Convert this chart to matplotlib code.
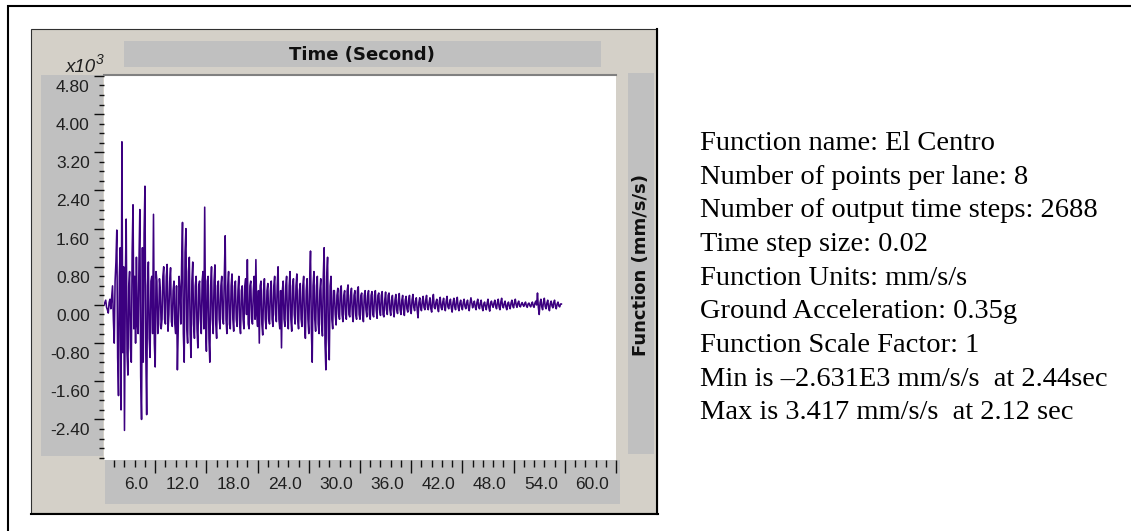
import numpy as np
import matplotlib.pyplot as plt
from matplotlib.patches import Rectangle
from matplotlib.transforms import ScaledTranslation

# El Centro ground acceleration (x10^3 mm/s/s), one value every 0.1 s
dt = 0.1
accel = [
    0.00, 0.05, 0.10, -0.05, -0.10, -0.17, 0.05, 0.12, -0.08, 0.15,
    0.40, -0.30, -0.80, 0.50, 0.90, 1.57, -1.10, -1.90, 0.60, 1.20,
    -2.20, 3.42, -1.00, 0.80, -2.63, 0.50, 1.80, -1.00, -1.47, 0.40,
    0.70, -0.90, -1.20, 1.10, 2.10, -0.50, 0.60, -0.80, 1.00, -0.40,
    -0.60, 0.90, 2.00, -1.50, -2.40, 1.20, -1.20, 1.50, 2.49, -1.00,
    -2.30, 0.40, 0.90, -0.70, -1.10, 0.50, 0.60, -0.60, 1.90, -0.80,
    -1.30, 0.70, 0.50, -0.60, -0.40, 0.55, 0.30, -0.50, -0.30, 0.60,
    0.80, -0.30, -0.40, 0.60, 0.85, -0.55, -0.20, 0.50, 0.78, -0.35,
    -0.45, 0.30, 0.50, -0.40, -0.60, 0.40, -1.36, -0.50, 0.60, 0.30,
    -0.40, 0.90, 1.73, -0.60, -1.20, 1.10, 1.60, -0.50, -0.80, 0.70,
    1.00, -0.60, -1.10, 0.50, 0.90, -0.40, -0.70, 0.40, 0.60, -0.50,
    -0.90, 0.40, 0.50, -0.30, -0.60, 0.50, 0.70, -0.50, 2.05, -0.40,
    -0.97, 0.50, 0.60, -0.70, -1.20, 0.40, 0.80, -0.30, -0.60, 0.50,
    0.84, -0.40, -0.70, 0.40, 0.50, -0.30, -0.50, 0.40, 0.60, -0.30,
    -0.40, 0.60, 1.45, -0.30, -0.60, 0.40, 0.70, -0.40, -0.50, 0.40,
    0.65, -0.30, -0.55, 0.40, 0.50, -0.30, -0.45, 0.30, 0.60, -0.40,
    -0.60, 0.30, 0.40, -0.30, -0.50, 0.40, 0.55, -0.20, 0.95, -0.40,
    -0.50, 0.40, 0.50, -0.30, -0.40, 0.30, 0.60, -0.30, 0.95, -0.20,
    -0.45, 0.30, -0.80, 0.40, 0.50, -0.40, -0.63, 0.30, 0.55, -0.30,
    -0.50, 0.30, 0.45, -0.30, -0.40, 0.30, 0.50, -0.30, -0.45, 0.40,
    0.60, -0.20, -0.35, 0.40, 0.80, -0.30, -0.50, 0.30, -0.90, 0.30,
    0.50, -0.30, -0.45, 0.40, 0.60, -0.30, -0.50, 0.40, 0.70, -0.30,
    -0.55, 0.40, 0.55, -0.20, -0.40, 0.40, 0.65, -0.30, -0.50, 0.30,
    0.45, -0.30, -0.45, 0.40, 0.60, -0.40, -0.70, 0.30, 0.55, -0.30,
    -0.60, 0.50, 1.13, -0.50, -1.20, 0.40, 0.70, -0.30, -0.55, 0.40,
    0.60, -0.40, -0.60, 0.30, 0.55, -0.40, -0.65, 0.60, 1.20, -0.80,
    -1.36, 0.60, 1.00, -0.70, -1.15, 0.40, 0.60, -0.30, -0.50, 0.30,
    0.30, -0.20, -0.42, 0.20, 0.35, -0.20, -0.30, 0.30, 0.40, -0.20,
    -0.35, 0.20, 0.30, -0.20, -0.30, 0.30, 0.42, -0.20, -0.25, 0.20,
    0.35, -0.20, -0.35, 0.20, 0.30, -0.20, -0.30, 0.30, 0.38, -0.20,
    -0.30, 0.20, 0.25, -0.20, -0.35, 0.20, 0.30, -0.10, -0.25, 0.20,
    0.30, -0.20, -0.30, 0.20, 0.28, -0.20, -0.25, 0.20, 0.30, -0.10,
    -0.28, 0.20, 0.25, -0.10, -0.22, 0.20, 0.28, -0.20, -0.25, 0.10,
    0.27, -0.10, -0.20, 0.20, 0.25, -0.10, -0.22, 0.10, 0.20, -0.10,
    -0.25, 0.10, 0.22, -0.10, -0.18, 0.10, 0.24, -0.10, -0.20, 0.10,
    0.20, -0.10, -0.22, 0.10, 0.18, -0.08, -0.15, 0.10, 0.20, -0.10,
    -0.18, 0.10, 0.22, -0.05, -0.12, 0.08, 0.15, -0.10, -0.27, 0.05,
    0.15, -0.05, -0.12, 0.08, 0.18, -0.05, -0.10, 0.10, 0.20, -0.05,
    -0.10, 0.05, 0.15, -0.08, -0.15, 0.10, 0.22, -0.05, -0.08, 0.06,
    0.12, -0.06, -0.14, 0.08, 0.16, -0.05, -0.10, 0.06, 0.14, -0.05,
    -0.12, 0.08, 0.18, -0.04, -0.08, 0.05, 0.12, -0.06, -0.15, 0.05,
    0.14, -0.04, -0.10, 0.08, 0.16, -0.05, -0.12, 0.04, 0.10, -0.04,
    -0.10, 0.05, 0.12, -0.03, -0.08, 0.04, 0.10, -0.05, -0.12, 0.04,
    0.15, 0.05, -0.06, 0.02, 0.08, -0.04, -0.10, 0.05, 0.12, -0.03,
    -0.08, 0.04, 0.10, -0.05, -0.12, 0.02, 0.06, -0.04, -0.10, 0.04,
    0.12, -0.05, -0.13, 0.03, 0.08, 0.00, -0.05, 0.04, 0.10, -0.03,
    -0.08, 0.05, 0.12, -0.04, -0.10, 0.06, 0.14, -0.02, -0.06, 0.03,
    0.08, -0.04, -0.10, 0.02, 0.06, -0.03, -0.08, 0.04, 0.10, -0.02,
    -0.06, 0.05, 0.12, 0.00, -0.05, 0.04, 0.08, -0.02, -0.04, 0.02,
    0.05, 0.00, -0.03, 0.03, 0.06, -0.02, -0.05, 0.02, 0.04, -0.01,
    -0.04, 0.02, 0.06, -0.02, -0.05, 0.04, 0.08, 0.00, 0.25, -0.05,
    -0.20, 0.05, 0.12, -0.04, -0.10, 0.06, 0.14, -0.03, -0.08, 0.04,
    0.10, -0.05, -0.12, 0.03, 0.08, -0.02, -0.06, 0.05, 0.10, -0.03,
    -0.08, 0.02, 0.06, -0.02, -0.04, 0.02, 0.02,
]
t = np.arange(len(accel)) * dt

y_ticks = [-2.4, -1.6, -0.8, 0.0, 0.8, 1.6, 2.4, 3.2, 4.0, 4.8]
y_labels = ['-2.40', '-1.60', '-0.80', '0.00', '0.80', '1.60', '2.40', '3.20', '4.00', '4.80']
x_ticks = [6, 12, 18, 24, 30, 36, 42, 48, 54, 60]
x_labels = ['6.0', '12.0', '18.0', '24.0', '30.0', '36.0', '42.0', '48.0', '54.0', '60.0']

info_lines = [
    'Function name: El Centro',
    'Number of points per lane: 8',
    'Number of output time steps: 2688',
    'Time step size: 0.02',
    'Function Units: mm/s/s',
    'Ground Acceleration: 0.35g',
    'Function Scale Factor: 1',
    'Min is \u20132.631E3 mm/s/s  at 2.44sec',
    'Max is 3.417 mm/s/s  at 2.12 sec',
]

W, H = 1131, 531
fig = plt.figure(figsize=(W / 100, H / 100), dpi=100)

# background layer in pixel coordinates for the window chrome
bg = fig.add_axes([0, 0, 1, 1])
bg.set_xlim(0, W)
bg.set_ylim(H, 0)
bg.axis('off')


def box(x0, y0, x1, y1, fc, ec='none', lw=0):
    bg.add_patch(Rectangle((x0, y0), x1 - x0, y1 - y0, facecolor=fc,
                           edgecolor=ec, linewidth=lw))


# outer frame (runs off the page to the right and bottom)
bg.plot([7, W + 5], [5.5, 5.5], color='black', lw=1.5, solid_capstyle='butt')
bg.plot([7.5, 7.5], [5, H + 5], color='black', lw=1.5, solid_capstyle='butt')

# chart panel
box(31, 29, 657, 513, '#D4D0C8', ec='#303030', lw=0.8)
bg.plot([657, 657], [29, 514], color='black', lw=1.5)
bg.plot([31, 658], [513.5, 513.5], color='black', lw=1.5)

box(124, 41, 601, 67, '#C0C0C0')    # title bar
box(41, 75, 103, 456, '#C0C0C0')    # y label strip
box(105, 460, 620, 504, '#C0C0C0')  # x label strip
box(628, 73, 654, 454, '#C0C0C0')   # right title strip

bg.text(362, 55, 'Time (Second)', ha='center', va='center', fontsize=13,
        fontweight='bold', family='DejaVu Sans', color='#101010')
bg.text(641, 265, 'Function (mm/s/s)', ha='center', va='center', rotation=90,
        fontsize=13, fontweight='bold', family='DejaVu Sans', color='#101010')
x10 = bg.text(66, 72, 'x10', ha='left', va='baseline', fontsize=13.5, style='italic',
              family='Liberation Sans', color='#202020')
bg.annotate('3', xy=(1, 0.55), xycoords=x10, ha='left', va='bottom', fontsize=10,
            style='italic', family='Liberation Sans', color='#202020')

for i, line in enumerate(info_lines):
    bg.text(700, 150 + 33.67 * i, line, ha='left', va='baseline',
            fontsize=20.5, family='Liberation Serif', color='black')

# plot area
ax = fig.add_axes([104 / W, 1 - 460 / H, (616 - 104) / W, (460 - 75) / H])
ax.set_facecolor('white')
ax.plot(t, accel, color='#3C0080', lw=1.15)
ax.set_xlim(0, 60)
ax.set_ylim(-3.25, 4.82)

for s in ['left', 'right', 'bottom']:
    ax.spines[s].set_visible(False)
ax.spines['top'].set_color('#808080')
ax.spines['top'].set_linewidth(1.5)

ax.set_yticks(y_ticks)
ax.set_yticklabels(y_labels)
ax.set_yticks(np.arange(-3.2, 4.81, 0.2), minor=True)
ax.set_xticks(x_ticks)
ax.set_xticklabels(x_labels)
ax.set_xticks(np.arange(1.2, 60, 1.2), minor=True)

ax.tick_params(axis='y', which='major', direction='out', length=7.2, width=1,
               color='#101010', pad=3, labelsize=12.5, labelcolor='#202020')
ax.tick_params(axis='y', which='minor', direction='out', length=3.6, width=1,
               color='#101010')
ax.tick_params(axis='x', which='major', direction='out', length=9, width=1,
               color='#101010', pad=3, labelsize=12.5, labelcolor='#202020')
ax.tick_params(axis='x', which='minor', direction='out', length=5, width=1,
               color='#101010')

for lab in ax.get_yticklabels():
    lab.set_fontfamily('Liberation Sans')
    lab.set_transform(lab.get_transform() + ScaledTranslation(0, -0.10, fig.dpi_scale_trans))
for lab in ax.get_xticklabels():
    lab.set_fontfamily('Liberation Sans')
    lab.set_horizontalalignment('right')
    lab.set_transform(lab.get_transform() + ScaledTranslation(-0.07, 0, fig.dpi_scale_trans))

fig.savefig('out.png', dpi=100)
